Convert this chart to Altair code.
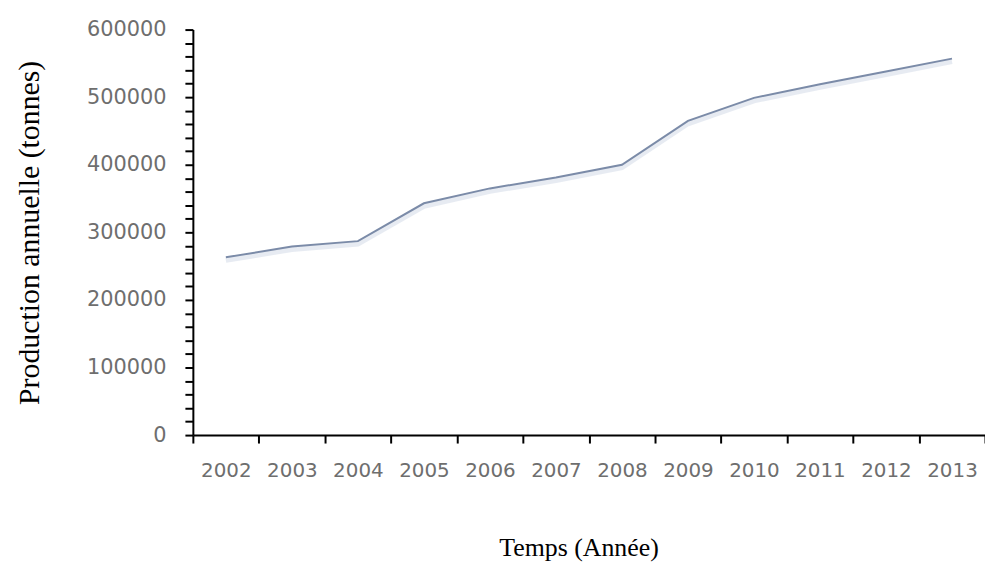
import altair as alt
import pandas as pd

years = ["2002", "2003", "2004", "2005", "2006", "2007",
         "2008", "2009", "2010", "2011", "2012", "2013"]
production = [263000, 279000, 287000, 343000, 365000, 381000,
              400000, 465000, 499000, 519000, 538000, 557000]
y_ticks = list(range(0, 600001, 20000))

df = pd.DataFrame({"Année": years, "Production": production})

x_enc = alt.X(
    "Année:O",
    sort=years,
    scale=alt.Scale(type="band", paddingInner=0, paddingOuter=0),
    axis=alt.Axis(
        title="Temps (Année)",
        labelAngle=0,
        tickBand="extent",
        tickSize=8,
        tickWidth=2,
        tickColor="#000000",
        domainColor="#000000",
        domainWidth=2,
        labelFont="DejaVu Sans",
        labelFontSize=20,
        labelColor="#6e6e6e",
        labelPadding=18,
        titleFont="Liberation Serif",
        titleFontSize=26,
        titleFontWeight="normal",
        titleColor="#000000",
        titleX=388,
        titleY=121,
        titleAlign="center",
        titleBaseline="alphabetic",
    ),
)

y_enc = alt.Y(
    "Production:Q",
    scale=alt.Scale(domain=[0, 600000], nice=False),
    axis=alt.Axis(
        title="Production annuelle (tonnes)",
        values=y_ticks,
        format="d",
        labelExpr="datum.value % 100000 === 0 ? datum.label : ''",
        grid=False,
        tickSize=8,
        tickWidth=2,
        tickColor="#000000",
        domainColor="#000000",
        domainWidth=2,
        labelFont="DejaVu Sans",
        labelFontSize=21,
        labelColor="#6e6e6e",
        labelPadding=19,
        titleFont="Liberation Serif",
        titleFontSize=30,
        titleFontWeight="normal",
        titleColor="#000000",
        titleX=-164,
        titleY=204,
        titleAngle=-90,
        titleAlign="center",
        titleBaseline="middle",
    ),
)

shadow = alt.Chart(df).mark_line(
    color="#c9d2e3", strokeWidth=5, opacity=0.45, yOffset=3
).encode(x=x_enc, y=y_enc)

line = alt.Chart(df).mark_line(
    color="#7b8ba8", strokeWidth=2
).encode(x=x_enc, y=y_enc)

chart = alt.layer(shadow, line).properties(
    width=797,
    height=408,
    autosize=alt.AutoSizeParams(type="none"),
    padding={"left": 186, "top": 20, "right": 0, "bottom": 129},
).configure_view(stroke=None).configure_axis(grid=False)

chart.save("out.html", embed_options={"renderer": "svg", "actions": False})
